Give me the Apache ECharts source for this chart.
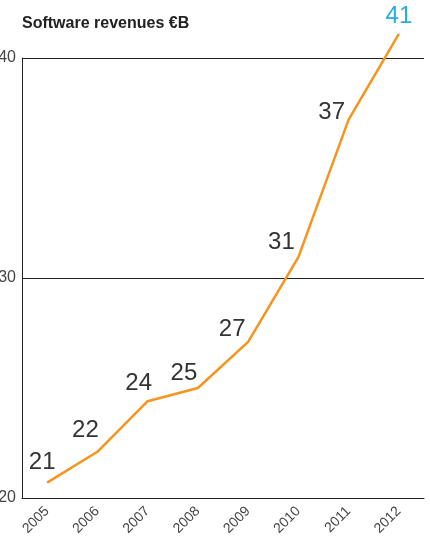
<!DOCTYPE html>
<html><head><meta charset="utf-8">
<script src="https://cdn.jsdelivr.net/npm/echarts@6/dist/echarts.min.js"></script>
<style>html,body{margin:0;padding:0;background:#fff}#c{width:430px;height:539px}</style>
</head><body><div id="c"></div>
<script>
var years = ['2005','2006','2007','2008','2009','2010','2011','2012'];
var revenues = [20.7, 22.1, 24.4, 25.0, 27.1, 30.95, 37.2, 41.1];
var labels = ['21','22','24','25','27','31','37','41'];
var yTicks = [20, 30, 40];

var chart = echarts.init(document.getElementById('c'), null, {renderer:'canvas'});
var labelOffsets = [[-5,-3],[-12,-4],[-9,0],[-14,3],[-16,5],[-17,3],[-17,10],[0,0]];
var data = revenues.map(function(v,i){
  var last = i === revenues.length-1;
  return {
    value: v,
    label: {
      show: true,
      formatter: labels[i],
      position: 'top',
      offset: labelOffsets[i],
      color: last ? '#29ABE2' : '#333',
      fontSize: 24,
      fontFamily: 'Liberation Sans, Arial, sans-serif'
    }
  };
});
chart.setOption({
  animation: false,
  title: {
    text: 'Software revenues €B', left: 17, top: 11,
    textStyle: {fontSize: 16, fontWeight: 'bold', color: '#222', fontFamily: 'Liberation Sans, Arial, sans-serif'}
  },
  grid: {left: 22, right: 6, top: 58, bottom: 41, containLabel: false, outerBoundsMode: 'none'},
  xAxis: {
    type: 'category', data: years, boundaryGap: true,
    axisLine: {show: true, lineStyle: {color: '#222', width: 1}},
    axisTick: {show: false},
    axisLabel: {rotate: 45, fontSize: 14, color: '#444', margin: 11, interval: 0, fontFamily: 'Liberation Sans, Arial, sans-serif'}
  },
  yAxis: {
    type: 'value', min: yTicks[0], max: yTicks[yTicks.length-1], interval: 10,
    axisLine: {show: true, lineStyle: {color: '#222', width: 1}},
    axisTick: {show: false},
    splitLine: {show: true, lineStyle: {color: '#222', width: 1}},
    axisLabel: {fontSize: 16, color: '#444', margin: 6, fontFamily: 'Liberation Sans, Arial, sans-serif'}
  },
  series: [{
    type: 'line', data: data, clip: false,
    symbol: 'circle', symbolSize: 1, showSymbol: true,
    label: {show: true},
    lineStyle: {color: '#F7941D', width: 2.5},
    itemStyle: {color: 'rgba(247,148,29,0)', borderWidth: 0}
  }]
});
</script></body></html>
